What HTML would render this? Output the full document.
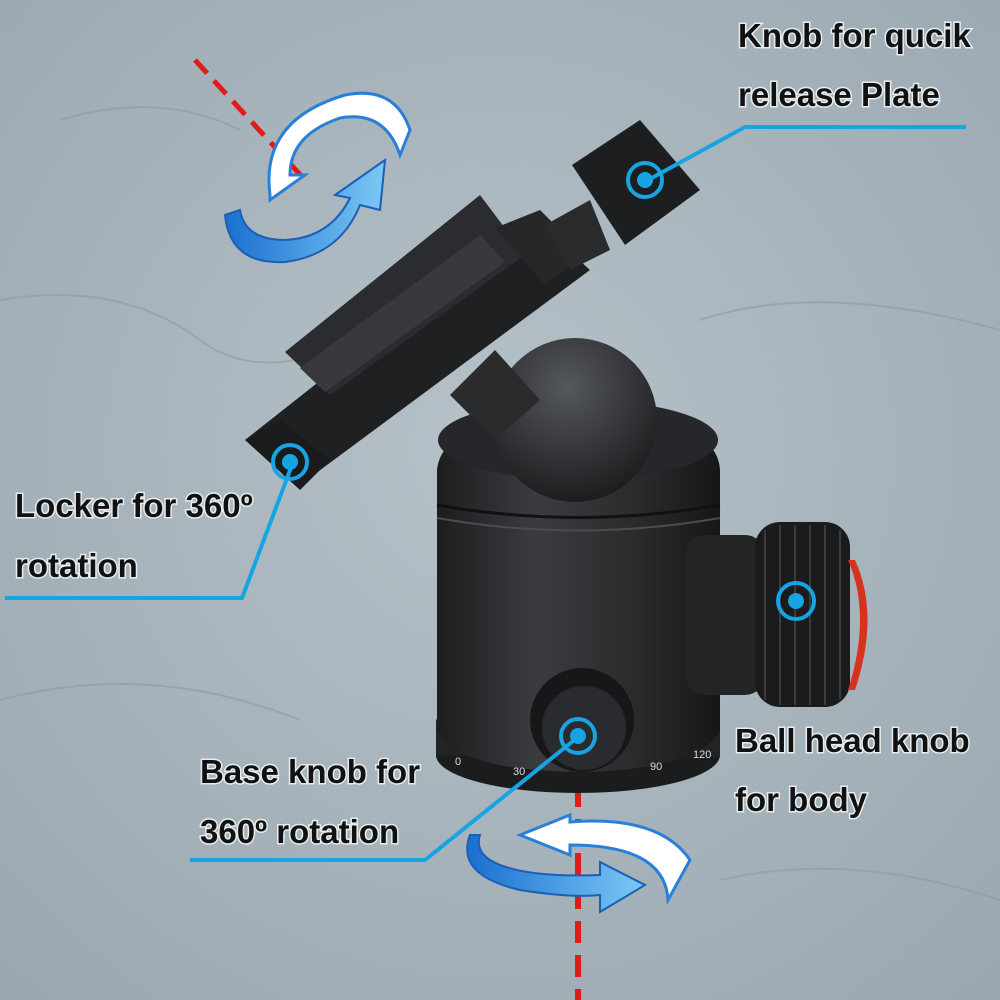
<!DOCTYPE html>
<html><head><meta charset="utf-8"><style>
html,body{margin:0;padding:0;width:1000px;height:1000px;overflow:hidden;background:#aab5bd}
svg{display:block}
text{font-family:"Liberation Sans",sans-serif;font-weight:bold;font-size:33px;fill:#111}
</style></head><body>
<svg width="1000" height="1000" viewBox="0 0 1000 1000">
<defs>
<radialGradient id="bg" cx="0.5" cy="0.45" r="0.75"><stop offset="0" stop-color="#b6c1c8"/><stop offset="1" stop-color="#9aa7b0"/></radialGradient>
<linearGradient id="body" x1="0" x2="1"><stop offset="0" stop-color="#1c1d1f"/><stop offset="0.35" stop-color="#3a3c3f"/><stop offset="0.7" stop-color="#2a2b2d"/><stop offset="1" stop-color="#161718"/></linearGradient>
<radialGradient id="ball" cx="0.45" cy="0.3" r="0.7"><stop offset="0" stop-color="#55585c"/><stop offset="1" stop-color="#1c1d1f"/></radialGradient>
<linearGradient id="arr" x1="0" x2="1"><stop offset="0" stop-color="#1a6fd0"/><stop offset="1" stop-color="#7cc8f5"/></linearGradient>
</defs>
<rect width="1000" height="1000" fill="url(#bg)"/>
<g stroke="#8e9aa3" stroke-width="2" fill="none" opacity="0.6">
<path d="M0 300 Q120 280 200 340 T420 300"/><path d="M700 320 Q820 280 1000 330"/><path d="M0 700 Q150 660 300 720"/><path d="M720 880 Q850 850 1000 900"/><path d="M60 120 Q160 90 240 130"/>
</g>
<line x1="195" y1="60" x2="305" y2="180" stroke="#e01b1b" stroke-width="5" stroke-dasharray="18,10"/>
<line x1="578" y1="785" x2="578" y2="1000" stroke="#e01b1b" stroke-width="6" stroke-dasharray="22,12"/>
<path d="M270 195 Q260 120 345 95 Q395 85 410 130 L400 155 Q385 110 340 118 Q290 135 290 175 L305 175 L270 200 Z" fill="#fff" stroke="#2a7fd8" stroke-width="3"/>
<path d="M225 215 Q230 265 285 262 Q340 255 360 205 L380 210 L385 160 L335 195 L350 198 Q330 238 285 240 Q245 240 240 210 Z" fill="url(#arr)" stroke="#1b5fb5" stroke-width="2"/>
<path d="M520 835 L570 815 L570 822 Q660 815 690 860 L668 900 Q665 845 570 845 L570 855 Z" fill="#fff" stroke="#2a7fd8" stroke-width="3"/>
<path d="M470 835 Q455 875 520 890 Q570 898 600 895 L600 912 L645 885 L600 862 L600 875 Q520 878 490 860 Q475 850 480 835 Z" fill="url(#arr)" stroke="#1b5fb5" stroke-width="2"/>
<ellipse cx="578" cy="755" rx="142" ry="38" fill="#1b1c1e"/>
<rect x="436" y="720" width="284" height="36" fill="#222325"/>
<ellipse cx="578" cy="722" rx="142" ry="30" fill="#2b2c2e"/>
<path d="M437 470 Q440 440 480 430 L680 430 Q718 440 720 470 L720 730 Q700 770 578 772 Q456 770 437 730 Z" fill="url(#body)"/>
<path d="M437 505 Q578 530 720 505" stroke="#111" stroke-width="3" fill="none"/>
<path d="M437 518 Q578 543 720 518" stroke="#4a4c4f" stroke-width="2" fill="none"/>
<ellipse cx="578" cy="440" rx="140" ry="40" fill="#26272a"/>
<circle cx="575" cy="420" r="82" fill="url(#ball)"/>
<path d="M450 395 L495 350 L540 400 L495 440 Z" fill="#2a2b2d"/>
<rect x="685" y="535" width="80" height="160" rx="20" fill="#232426"/>
<rect x="755" y="522" width="95" height="185" rx="25" fill="#1a1b1c"/>
<g stroke="#3a3b3e" stroke-width="2">
<line x1="765" y1="530" x2="765" y2="700"/><line x1="780" y1="525" x2="780" y2="705"/><line x1="795" y1="525" x2="795" y2="705"/><line x1="810" y1="525" x2="810" y2="705"/><line x1="825" y1="525" x2="825" y2="705"/><line x1="840" y1="530" x2="840" y2="700"/>
</g>
<path d="M848 560 Q872 615 848 690 L855 690 Q880 615 855 560 Z" fill="#d8321f"/>
<circle cx="582" cy="720" r="52" fill="#161718"/>
<circle cx="584" cy="728" r="42" fill="#2a2b2e"/>
<polygon points="245,440 300,485 590,270 530,215" fill="#1f2022"/>
<polygon points="285,352 330,395 525,255 480,195" fill="#2b2c2f"/>
<polygon points="300,368 325,392 505,262 480,235" fill="#38393c"/>
<polygon points="495,228 540,210 585,255 545,285" fill="#262729"/>
<polygon points="245,440 280,420 330,460 300,490" fill="#1a1b1c"/>
<polygon points="545,225 590,200 610,250 570,270" fill="#2a2b2d"/>
<polygon points="572,165 640,120 700,190 625,245" fill="#1d1e20"/>
<g><text x="455" y="765" style="font-size:11px;fill:#ddd;font-weight:normal">0</text><text x="513" y="775" style="font-size:11px;fill:#ddd;font-weight:normal">30</text><text x="650" y="770" style="font-size:11px;fill:#ddd;font-weight:normal">90</text><text x="693" y="758" style="font-size:11px;fill:#ddd;font-weight:normal">120</text></g>
<g stroke="#17a4e2" stroke-width="4" fill="none">
<polyline points="966,127 745,127 648,180"/>
<polyline points="292,465 242,598 5,598"/>
<polyline points="578,737 425,860 190,860"/>
<circle cx="645" cy="180" r="17"/>
<circle cx="290" cy="462" r="17"/>
<circle cx="796" cy="601" r="18"/>
<circle cx="578" cy="736" r="17"/>
</g>
<g fill="#17a4e2"><circle cx="645" cy="180" r="8"/><circle cx="290" cy="462" r="8"/><circle cx="796" cy="601" r="8"/><circle cx="578" cy="736" r="8"/></g>
<g style="paint-order:stroke" stroke="#e6ecef" stroke-width="3">
<text x="738" y="47">Knob for qucik</text>
<text x="738" y="106">release Plate</text>
<text x="15" y="517">Locker for 360º</text>
<text x="15" y="577">rotation</text>
<text x="735" y="752">Ball head knob</text>
<text x="735" y="811">for body</text>
<text x="200" y="783">Base knob for</text>
<text x="200" y="843">360º rotation</text>
</g>
</svg>
</body></html>
